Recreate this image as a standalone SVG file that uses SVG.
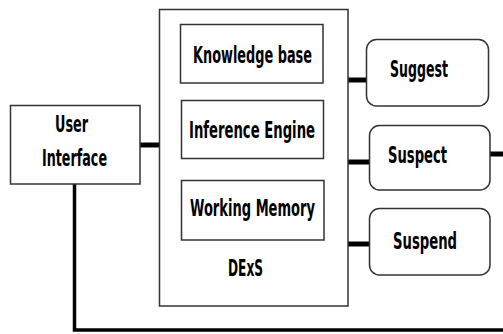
<svg xmlns="http://www.w3.org/2000/svg" width="503" height="334" viewBox="0 0 503 334">
<style>
.box{fill:#fff;stroke:#333;stroke-width:1.5}
.t{font-family:"DejaVu Sans Condensed","DejaVu Sans","Liberation Sans",sans-serif;font-weight:bold;font-size:23px;fill:#000;text-anchor:start}
.c{fill:none;stroke:#000;stroke-width:5}
.c2{fill:none;stroke:#000;stroke-width:3.5}
</style>
<rect width="503" height="334" fill="#fff"/>
<g id="connectors">
<line class="c" x1="140" y1="145" x2="159" y2="145"/>
<line class="c" x1="348" y1="80" x2="366" y2="80"/>
<line class="c" x1="348" y1="162" x2="369" y2="162"/>
<line class="c" x1="490" y1="154" x2="503" y2="154"/>
<line class="c" x1="348" y1="244" x2="369" y2="244"/>
<polyline class="c2" points="74.5,184 74.5,330 503,330"/>
</g>
<g id="dexs">
<rect class="box" x="159.5" y="9.5" width="188.5" height="296.5"/>
<text class="t" x="228" y="276" textLength="35" lengthAdjust="spacingAndGlyphs">DExS</text>
</g>
<g id="knowledge-base">
<rect class="box" x="180.5" y="24.5" width="142.5" height="58.5"/>
<text class="t" x="193" y="63" textLength="119" lengthAdjust="spacingAndGlyphs">Knowledge base</text>
</g>
<g id="inference-engine">
<rect class="box" x="181.5" y="100.5" width="142" height="58"/>
<text class="t" x="189" y="138" textLength="126" lengthAdjust="spacingAndGlyphs">Inference Engine</text>
</g>
<g id="working-memory">
<rect class="box" x="181.5" y="180.5" width="142.5" height="59.5"/>
<text class="t" x="190" y="216" textLength="125" lengthAdjust="spacingAndGlyphs">Working Memory</text>
</g>
<g id="user-interface">
<rect class="box" x="10.5" y="105.5" width="129.5" height="78.5"/>
<text class="t" x="55" y="132" textLength="33" lengthAdjust="spacingAndGlyphs">User</text>
<text class="t" x="42" y="166" textLength="65" lengthAdjust="spacingAndGlyphs">Interface</text>
</g>
<g id="suggest">
<rect class="box" x="366.5" y="39.5" width="122" height="66.5" rx="10"/>
<text class="t" x="390" y="77" textLength="58" lengthAdjust="spacingAndGlyphs">Suggest</text>
</g>
<g id="suspect">
<rect class="box" x="369.5" y="125.5" width="120.5" height="64.5" rx="10"/>
<text class="t" x="388" y="163" textLength="59" lengthAdjust="spacingAndGlyphs">Suspect</text>
</g>
<g id="suspend">
<rect class="box" x="369.5" y="208.5" width="120.5" height="66.5" rx="10"/>
<text class="t" x="393" y="249" textLength="64" lengthAdjust="spacingAndGlyphs">Suspend</text>
</g>
</svg>
